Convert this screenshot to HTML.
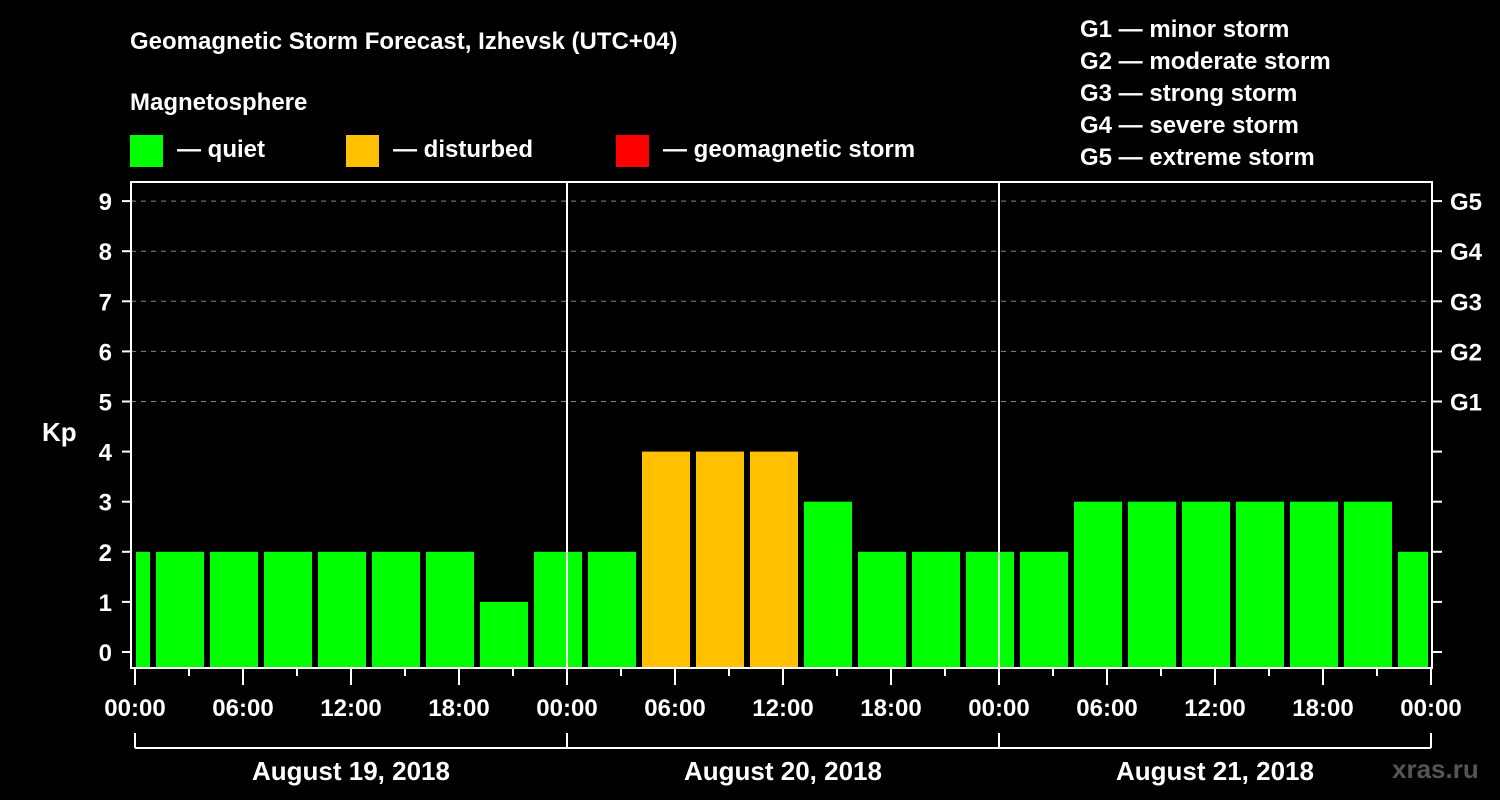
<!DOCTYPE html>
<html><head><meta charset="utf-8"><style>
body{margin:0;background:#000;}
svg{display:block;font-family:"Liberation Sans",Arial,sans-serif;font-weight:bold;}
</style></head><body>
<svg width="1500" height="800" viewBox="0 0 1500 800">
<rect width="1500" height="800" fill="#000"/>
<text x="130" y="49" fill="#fff" font-size="24">Geomagnetic Storm Forecast, Izhevsk (UTC+04)</text>
<text x="130" y="110" fill="#fff" font-size="24">Magnetosphere</text>
<g><rect x="130" y="135" width="33" height="32" fill="#00ff00"/><text x="177" y="157" fill="#fff" font-size="24">— quiet</text></g>
<g><rect x="346" y="135" width="33" height="32" fill="#ffc000"/><text x="393" y="157" fill="#fff" font-size="24">— disturbed</text></g>
<g><rect x="616" y="135" width="33" height="32" fill="#ff0000"/><text x="663" y="157" fill="#fff" font-size="24">— geomagnetic storm</text></g>
<g fill="#fff" font-size="24">
<text x="1080" y="37">G1 — minor storm</text>
<text x="1080" y="69">G2 — moderate storm</text>
<text x="1080" y="101">G3 — strong storm</text>
<text x="1080" y="133">G4 — severe storm</text>
<text x="1080" y="165">G5 — extreme storm</text>
</g>
<text x="42" y="441" fill="#fff" font-size="26">Kp</text>
<text x="1392" y="778" fill="#555" font-size="26">xras.ru</text>
<g id="grid"></g><g id="bars"></g><g id="axes"></g>
</svg>
<script>
const kpValues=[2,2,2,2,2,2,2,1,2,2,4,4,4,3,2,2,2,2,3,3,3,3,3,3,2];
const startHour=-2; // first interval start (hours from Aug 19 00:00 local)
const dayLabels=["August 19, 2018","August 20, 2018","August 21, 2018"];
const timeLabels=["00:00","06:00","12:00","18:00"];
const gLabels=["G1","G2","G3","G4","G5"];
const NS="http://www.w3.org/2000/svg";
const X0=135,PXH=18,Y0=652,PXK=50.1;
const L=131,R=1432,T=182,B=668;
const x=h=>X0+h*PXH, y=k=>Y0-k*PXK;
function mk(t,a,p){const e=document.createElementNS(NS,t);for(const k in a)e.setAttribute(k,a[k]);p.appendChild(e);return e;}
const grid=document.getElementById('grid'),bars=document.getElementById('bars'),axes=document.getElementById('axes');
for(let k=5;k<=9;k++){const l=mk('line',{x1:L,x2:R,y1:y(k),y2:y(k),stroke:'#888','stroke-dasharray':'5 5','stroke-width':1},grid);

}
kpValues.forEach((v,i)=>{const h0=startHour+3*i;let x1=Math.max(x(h0)+3,L+5),x2=Math.min(x(h0+3)-3,R-4);
const c=v>=5?'#ff0000':(v>=4?'#ffc000':'#00ff00');
const r=mk('rect',{x:x1,y:y(v),width:x2-x1,height:B-1-y(v),fill:c},bars);

});
const s={stroke:'#fff','stroke-width':2};
const fr=mk('rect',{x:L,y:T,width:R-L,height:B-T,fill:'none',stroke:'#fff','stroke-width':2},axes);


for(let d=1;d<3;d++){const l=mk('line',Object.assign({x1:x(24*d),x2:x(24*d),y1:T,y2:B},s),axes);

}
for(let k=0;k<=9;k++){
mk('line',Object.assign({x1:122,x2:L,y1:y(k),y2:y(k)},s),axes);
mk('line',Object.assign({x1:R,x2:1442,y1:y(k),y2:y(k)},s),axes);
const t=mk('text',{x:112,y:y(k)+9,fill:'#fff','font-size':24,'text-anchor':'end'},axes);t.textContent=k;

}
gLabels.forEach((g,i)=>{const t=mk('text',{x:1450,y:y(5+i)+9,fill:'#fff','font-size':24},axes);t.textContent=g;

});
for(let h=0;h<=72;h+=3){const long=h%6===0;mk('line',Object.assign({x1:x(h),x2:x(h),y1:B,y2:B+(long?17:8)},s),axes);
if(long){const t=mk('text',{x:x(h),y:B+48,fill:'#fff','font-size':24,'text-anchor':'middle'},axes);t.textContent=timeLabels[(h/6)%4];

}}
mk('line',Object.assign({x1:x(0),x2:x(72),y1:748,y2:748},s),axes);
for(let d=0;d<=3;d++)mk('line',Object.assign({x1:x(24*d),x2:x(24*d),y1:733,y2:748},s),axes);
dayLabels.forEach((dl,i)=>{const t=mk('text',{x:x(24*i+12),y:780,fill:'#fff','font-size':26,'text-anchor':'middle'},axes);t.textContent=dl;

});
</script>
</body></html>
